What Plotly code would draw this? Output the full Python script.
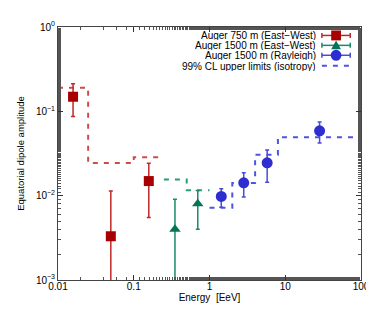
import plotly.graph_objects as go

# ---- data ----
e750 = [0.0158, 0.0498, 0.158]
d750 = [0.149, 0.0033, 0.0149]
d750_hi = [0.212, 0.01135, 0.0243]
d750_lo = [0.0867, 0.0005, 0.0055]

e1500ew = [0.35, 0.70]
d1500ew = [0.0040, 0.0080]
d1500ew_hi = [0.00904, 0.0115]
d1500ew_lo = [0.0005, 0.0040]

eray = [1.43, 2.83, 5.77, 28.4]
dray = [0.0098, 0.0142, 0.0245, 0.0587]
dray_hi = [0.0121, 0.0187, 0.0348, 0.0748]
dray_lo = [0.0073, 0.00966, 0.0144, 0.0420]

ul750_edges = [0.01, 0.025, 0.1, 0.25]
ul750 = [0.19, 0.0244, 0.0285]
ul1500ew_edges = [0.25, 0.5, 1.0]
ul1500ew = [0.0156, 0.0116]
ulray_edges = [1.0, 2.0, 4.0, 8.0, 100.0]
ulray = [0.0072, 0.0141, 0.0306, 0.0494]

xtickvals = [0.01, 0.1, 1, 10, 100]
xticktext = ["0.01", "0.1", "1", "10", "100"]
ytickvals = [0.001, 0.01, 0.1, 1]
yticktext = ["10<sup>−3</sup>", "10<sup>−2</sup>", "10<sup>−1</sup>", "10<sup>0</sup>"]

legend_labels = ["Auger 750 m (East−West)", "Auger 1500 m (East−West)",
                 "Auger 1500 m (Rayleigh)", "99% CL upper limits (isotropy)"]

RED, RED_E, RED_D = "#a80000", "#c02828", "#d04a4a"
GRN, GRN_E, GRN_D = "#007558", "#1a8a6a", "#2a9a7a"
BLU, BLU_E, BLU_D = "#2e2ed0", "#4a4ad8", "#4a55e0"

fig = go.Figure()


def steps(edges, vals):
    return list(edges), list(vals) + [vals[-1]]


for edges, vals, col in [(ul750_edges, ul750, RED_D),
                         (ul1500ew_edges, ul1500ew, GRN_D),
                         (ulray_edges, ulray, BLU_D)]:
    xs, ys = steps(edges, vals)
    fig.add_trace(go.Scatter(x=xs, y=ys, mode="lines", line_shape="hv",
                             line=dict(color=col, width=2, dash="5px,6px"),
                             showlegend=False, hoverinfo="skip"))


def pts(x, y, hi, lo, col, ecol, sym, size):
    fig.add_trace(go.Scatter(
        x=x, y=y, mode="markers",
        marker=dict(symbol=sym, size=size, color=col, line=dict(width=0)),
        error_y=dict(type="data", symmetric=False,
                     array=[h - v for h, v in zip(hi, y)],
                     arrayminus=[v - l for v, l in zip(y, lo)],
                     color=ecol, thickness=1.5, width=2),
        showlegend=False))


pts(e750, d750, d750_hi, d750_lo, RED, RED_E, "square", 10)
pts(e1500ew, d1500ew, d1500ew_hi, d1500ew_lo, GRN, GRN_E, "triangle-up", 10)
pts(eray, dray, dray_hi, dray_lo, BLU, BLU_E, "circle", 11)

# ---- custom legend (gnuplot style: text right, sample on the right) ----
FONT = "Liberation Sans, Arial, sans-serif"
W, H = 374, 313
L, R, T, B = 48, 16, 17, 41
pw, ph = W - L - R, H - T - B


def px(xp):
    return (xp - L) / pw


def py(yp):
    return 1 - (yp - T) / ph


rows = [25.5, 35.5, 45.5, 56]
cols = [(RED, RED_E), (GRN, GRN_E), (BLU, BLU_E), (BLU_D, BLU_D)]
x0, x1 = 318, 347
for i, (lab, yr) in enumerate(zip(legend_labels, rows)):
    fig.add_annotation(x=px(313), y=py(yr), xref="paper", yref="paper",
                       text=lab, showarrow=False, xanchor="right", yanchor="middle",
                       height=10, borderpad=0, valign="middle",
                       font=dict(family=FONT, size=10, color="#000"))
    mc, ec = cols[i]
    if i < 3:
        fig.add_shape(type="line", xref="paper", yref="paper",
                      x0=px(x0), x1=px(x1), y0=py(yr), y1=py(yr),
                      line=dict(color=ec, width=1.5))
        for xc in (x0, x1):
            fig.add_shape(type="line", xref="paper", yref="paper",
                          x0=px(xc), x1=px(xc), y0=py(yr - 2.5), y1=py(yr + 2.5),
                          line=dict(color=ec, width=1.5))
        cx = (x0 + x1) / 2
        if i == 0:
            fig.add_shape(type="rect", xref="paper", yref="paper",
                          x0=px(cx - 5), x1=px(cx + 5), y0=py(yr - 5), y1=py(yr + 5),
                          fillcolor=mc, line=dict(width=0))
        elif i == 1:
            fig.add_shape(type="path", xref="paper", yref="paper",
                          path=f"M {px(cx-5)} {py(yr+4)} L {px(cx+5)} {py(yr+4)} L {px(cx)} {py(yr-5)} Z",
                          fillcolor=mc, line=dict(width=0))
        else:
            fig.add_shape(type="circle", xref="paper", yref="paper",
                          x0=px(cx - 5.5), x1=px(cx + 5.5), y0=py(yr - 5.5), y1=py(yr + 5.5),
                          fillcolor=mc, line=dict(width=0))
    else:
        fig.add_shape(type="line", xref="paper", yref="paper",
                      x0=px(x0), x1=px(x1), y0=py(yr), y1=py(yr),
                      line=dict(color=mc, width=2, dash="5px,6px"))

axis_common = dict(type="log", ticks="inside", ticklen=5, tickcolor="#333",
                   showline=True, linecolor="#444", linewidth=1, mirror="ticks",
                   showgrid=False, zeroline=False,
                   minor=dict(ticks="inside", ticklen=3, tickcolor="#555", showgrid=False),
                   tickfont=dict(family=FONT, size=10, color="#000"))

fig.update_xaxes(**axis_common, range=[-2, 2], tickvals=xtickvals, ticktext=xticktext,
                 ticklabelstandoff=-3,
                 title=dict(text="Energy  [EeV]", font=dict(family=FONT, size=10, color="#000"),
                            standoff=0))
fig.update_yaxes(**axis_common, range=[-3, 0], tickvals=ytickvals, ticktext=yticktext,
                 title=dict(text="Equatorial dipole amplitude",
                            font=dict(family=FONT, size=9.5, color="#000"), standoff=9))

fig.update_layout(width=W, height=H, margin=dict(l=L, r=R, t=T, b=B),
                  paper_bgcolor="white", plot_bgcolor="white", showlegend=False,
                  font=dict(family=FONT, size=10, color="#000"))

fig.write_html("out.html")
